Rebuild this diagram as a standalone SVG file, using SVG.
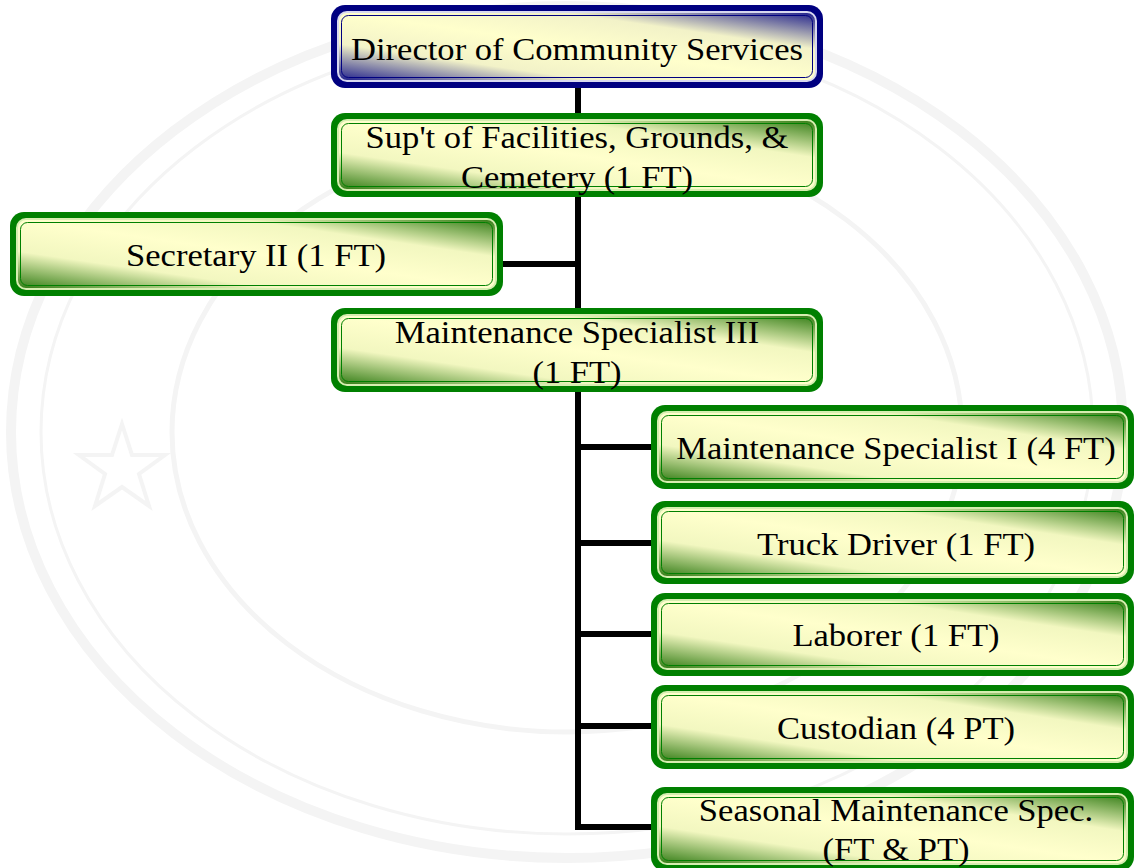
<svg xmlns="http://www.w3.org/2000/svg" width="1134" height="868" viewBox="0 0 1134 868">
<defs>
<linearGradient id="gGreen" x1="1" y1="0" x2="0" y2="1">
<stop offset="0" stop-color="#2f7a12"/>
<stop offset="0.27" stop-color="#f2f7c0"/>
<stop offset="0.5" stop-color="#ffffcc"/>
<stop offset="0.73" stop-color="#f2f7c0"/>
<stop offset="1" stop-color="#2f7a12"/>
</linearGradient>
<linearGradient id="gBlue" x1="1" y1="0" x2="0" y2="1">
<stop offset="0" stop-color="#1a1a8a"/>
<stop offset="0.27" stop-color="#f2f2c8"/>
<stop offset="0.5" stop-color="#ffffcc"/>
<stop offset="0.73" stop-color="#f2f2c8"/>
<stop offset="1" stop-color="#1a1a8a"/>
</linearGradient>
</defs>
<style>
.wm{fill:none;stroke:#f4f4f4}
.g .o{fill:#008000}
.b .o{fill:#000080}
.g .i{fill:url(#gGreen);stroke:#d6eeb0;stroke-width:2}
.b .i{fill:url(#gBlue);stroke:#d8d8f0;stroke-width:2}
.g .l{fill:none;stroke:#008000;stroke-width:1}
.b .l{fill:none;stroke:#000080;stroke-width:1}
.t{font-size:32px;fill:#000;text-anchor:middle}
.c{stroke:#000;stroke-width:6;fill:none}
</style>
<rect x="0" y="0" width="1134" height="868" fill="#ffffff"/>
<g id="watermark">
<ellipse class="wm" cx="567" cy="432" rx="556" ry="426" stroke-width="10"/>
<ellipse class="wm" cx="567" cy="432" rx="526" ry="402" stroke-width="3"/>
<ellipse class="wm" cx="567" cy="432" rx="395" ry="300" stroke-width="5"/>
<polygon class="wm" stroke-width="4" points="122,424 132,455 165,455 139,474 149,506 122,487 95,506 105,474 79,455 112,455"/>
</g>
<g id="connectors">
<line class="c" x1="578" y1="86" x2="578" y2="114"/>
<line class="c" x1="578" y1="196" x2="578" y2="309"/>
<line class="c" x1="502" y1="264" x2="581" y2="264"/>
<line class="c" x1="578" y1="390" x2="578" y2="830"/>
<line class="c" x1="575" y1="447" x2="652" y2="447"/>
<line class="c" x1="575" y1="543" x2="652" y2="543"/>
<line class="c" x1="575" y1="634" x2="652" y2="634"/>
<line class="c" x1="575" y1="726" x2="652" y2="726"/>
<line class="c" x1="575" y1="827" x2="652" y2="827"/>
</g>
<g font-family="Liberation Serif, Times New Roman, serif">
<g id="director" class="b">
<rect class="o" x="331" y="5" width="492" height="83" rx="14"/>
<rect class="i" x="338" y="12" width="478" height="69" rx="9"/>
<rect class="l" x="341.5" y="15.5" width="471" height="62" rx="7"/>
<text class="t" transform="translate(577,60) scale(1.08,1)">Director of Community Services</text>
</g>
<g id="superintendent" class="g">
<rect class="o" x="331" y="113" width="492" height="84" rx="14"/>
<rect class="i" x="338" y="120" width="478" height="70" rx="9"/>
<rect class="l" x="341.5" y="123.5" width="471" height="63" rx="7"/>
<text class="t" transform="translate(577,148) scale(1.08,1)">Sup't of Facilities, Grounds, &amp;</text>
<text class="t" transform="translate(577,188) scale(1.08,1)">Cemetery (1 FT)</text>
</g>
<g id="secretary" class="g">
<rect class="o" x="10" y="212" width="493" height="84" rx="14"/>
<rect class="i" x="17" y="219" width="479" height="70" rx="9"/>
<rect class="l" x="20.5" y="222.5" width="472" height="63" rx="7"/>
<text class="t" transform="translate(256,266) scale(1.08,1)">Secretary II (1 FT)</text>
</g>
<g id="maint3" class="g">
<rect class="o" x="331" y="308" width="492" height="84" rx="14"/>
<rect class="i" x="338" y="315" width="478" height="70" rx="9"/>
<rect class="l" x="341.5" y="318.5" width="471" height="63" rx="7"/>
<text class="t" transform="translate(577,343) scale(1.08,1)">Maintenance Specialist III</text>
<text class="t" transform="translate(577,383) scale(1.08,1)">(1 FT)</text>
</g>
<g id="maint1" class="g">
<rect class="o" x="651" y="405" width="483" height="84" rx="14"/>
<rect class="i" x="658" y="412" width="469" height="70" rx="9"/>
<rect class="l" x="661.5" y="415.5" width="462" height="63" rx="7"/>
<text class="t" transform="translate(896,459) scale(1.08,1)">Maintenance Specialist I (4 FT)</text>
</g>
<g id="truck" class="g">
<rect class="o" x="651" y="501" width="483" height="83" rx="14"/>
<rect class="i" x="658" y="508" width="469" height="69" rx="9"/>
<rect class="l" x="661.5" y="511.5" width="462" height="62" rx="7"/>
<text class="t" transform="translate(896,555) scale(1.08,1)">Truck Driver (1 FT)</text>
</g>
<g id="laborer" class="g">
<rect class="o" x="651" y="593" width="483" height="83" rx="14"/>
<rect class="i" x="658" y="600" width="469" height="69" rx="9"/>
<rect class="l" x="661.5" y="603.5" width="462" height="62" rx="7"/>
<text class="t" transform="translate(896,646) scale(1.08,1)">Laborer (1 FT)</text>
</g>
<g id="custodian" class="g">
<rect class="o" x="651" y="685" width="483" height="84" rx="14"/>
<rect class="i" x="658" y="692" width="469" height="70" rx="9"/>
<rect class="l" x="661.5" y="695.5" width="462" height="63" rx="7"/>
<text class="t" transform="translate(896,739) scale(1.08,1)">Custodian (4 PT)</text>
</g>
<g id="seasonal" class="g">
<rect class="o" x="651" y="787" width="483" height="84" rx="14"/>
<rect class="i" x="658" y="794" width="469" height="70" rx="9"/>
<rect class="l" x="661.5" y="797.5" width="462" height="63" rx="7"/>
<text class="t" transform="translate(896,821) scale(1.08,1)">Seasonal Maintenance Spec.</text>
<text class="t" transform="translate(896,860) scale(1.08,1)">(FT &amp; PT)</text>
</g>
</g>
</svg>
